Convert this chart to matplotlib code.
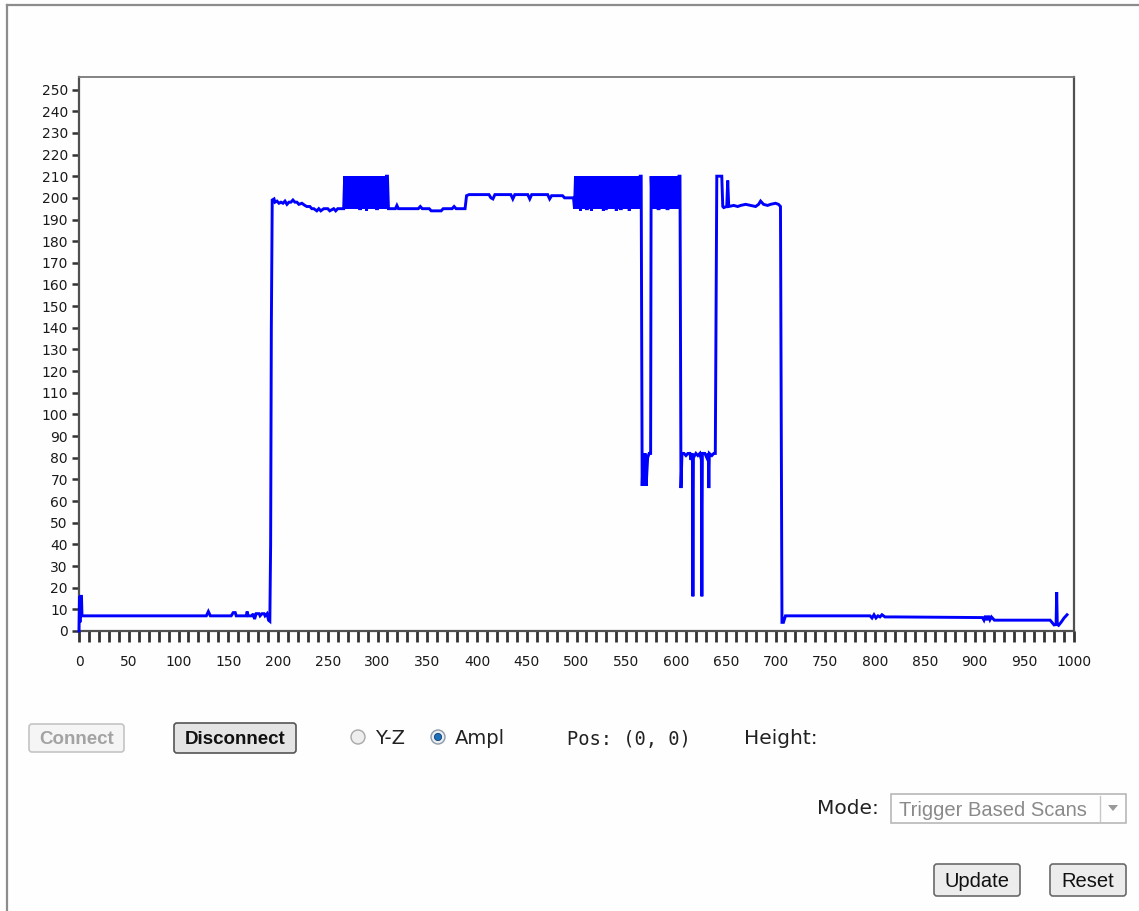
import numpy as np
import matplotlib
matplotlib.use("Agg")
import matplotlib.pyplot as plt
from matplotlib.patches import FancyBboxPatch, Circle, Polygon, Rectangle
from matplotlib.lines import Line2D
from matplotlib.transforms import Affine2D

# ---------------- data ----------------
low_x = [0, 0.5, 1, 1.5, 2.5, 3, 128, 130, 132, 153, 155, 157, 158, 168, 169, 170,
         174, 175, 176.5, 178, 181, 182, 184, 186, 187, 189, 190.5, 191.8, 192.6, 193.3, 194.2]
low_y = [0, 16, 4, 16, 16, 7, 7, 9, 7, 7, 8.5, 8.5, 7, 7, 9, 7,
         7, 8, 5.5, 8, 8, 7, 8, 8, 7, 8, 5, 4.5, 40, 140, 199]

high1_x = [196, 197, 199, 201, 203, 205, 207, 209, 211, 213, 215, 217, 219, 221, 224, 227,
           229, 232, 234, 236, 239, 241, 243, 246, 250, 252, 256, 258, 260, 262, 266]
high1_y = [199.5, 198, 198.5, 197.5, 198, 197.5, 198.5, 197, 198, 198, 199, 198, 198, 197, 197.5, 196.5,
           196, 196, 195, 195, 194, 195, 194, 195, 195, 194, 195, 194, 195, 195, 195]

osc1_start = 267
osc1_y = [210, 195, 210, 195, 210, 195, 210, 195, 210, 195, 210, 195, 210, 195, 210, 195,
          195, 210, 195, 210, 195, 210, 194, 210, 195, 210, 195, 210, 195, 210, 195, 210,
          195, 195, 210, 195, 210, 195, 210, 195, 210, 195, 210, 210, 195]

mid_x = [312, 318, 319.5, 321, 341, 343, 345, 352, 354, 364, 366, 375, 377, 379, 388, 389.5, 392,
         412, 414, 416, 418, 434, 436, 438, 451, 453, 455, 471, 473, 475, 486, 488, 497]
mid_y = [195, 195, 196.5, 195, 195, 196, 195, 195, 194, 194, 195, 195, 196, 195, 195, 201, 201.5,
         201.5, 200, 199.5, 201.5, 201.5, 199.5, 201.5, 201.5, 199.5, 201.5, 201.5, 199.5, 201, 201, 200, 200]

osc2_start = 498
osc2_y = [195, 210, 195, 210, 195, 210, 194, 210, 195, 210, 195, 210, 195, 195, 210, 195,
          210, 194, 210, 195, 210, 195, 210, 195, 210, 195, 210, 195, 210, 194, 210, 195,
          195, 210, 195, 210, 195, 210, 195, 210, 195, 210, 194, 210, 195, 210, 195, 195,
          210, 195, 210, 195, 210, 195, 210, 194, 210, 195, 210, 195, 210, 195, 210, 195,
          210, 195, 210, 210]

gap1_x = [566, 567, 568, 569, 570, 571.5, 573, 574.5]
gap1_y = [67, 82, 67, 82, 67, 80, 82, 82]

osc3_start = 575
osc3_y = [210, 195, 210, 195, 210, 195, 210, 195, 195, 210, 195, 210, 195, 210, 195,
          210, 195, 195, 210, 195, 210, 195, 210, 195, 210, 195, 210, 195, 210, 210]

low2_x = [605, 606, 608, 610, 612, 614, 615, 616.5, 617, 617.5, 620, 622, 624, 625.5, 626, 626.5,
          629, 631, 632.5, 633, 633.5, 636, 638, 639.5, 641, 646, 647]
low2_y = [66, 82, 82, 81, 82, 82, 79, 82, 16, 80, 82, 81, 82, 79, 16, 82,
          82, 80, 82, 66, 82, 81, 82, 82, 210, 210, 196]

high2_x = [648, 651, 652, 653, 658, 662, 665, 670, 675, 680, 683, 685, 688, 692, 695, 700,
           703, 705, 706.5, 708, 710]
high2_y = [195.5, 196, 208, 196, 196.5, 196, 196.5, 197, 196.5, 196, 197, 198.5, 197, 196.5, 197, 197.5,
           197, 196, 4, 4, 7]

tail_x = [795, 797, 799, 801, 803, 805, 807, 810, 820, 905, 908, 909.5, 911, 912.5, 914, 915.5,
          917, 920, 976, 980, 982, 982.6, 983.2, 984.5, 987, 990, 993]
tail_y = [7, 6, 7.5, 6, 7, 6.5, 7.5, 6.5, 6.5, 6.2, 6.2, 5, 7, 5, 7, 5.2,
          6.5, 5, 5, 2.8, 3, 18, 3, 2.6, 4, 6, 7.5]

y_ticks = list(range(0, 251, 10))
x_ticks = list(range(0, 1001, 10))
x_tick_labels = [str(v) if v % 50 == 0 else "" for v in x_ticks]

# ---------------- assemble series ----------------
xs = (low_x + high1_x
      + list(np.arange(osc1_start, osc1_start + len(osc1_y)))
      + mid_x
      + list(np.arange(osc2_start, osc2_start + len(osc2_y)))
      + gap1_x
      + list(np.arange(osc3_start, osc3_start + len(osc3_y)))
      + low2_x + high2_x + tail_x)
ys = (low_y + high1_y + osc1_y + mid_y + osc2_y + gap1_y + osc3_y + low2_y + high2_y + tail_y)

# ---------------- figure ----------------
W, H = 1139, 911
fig = plt.figure(figsize=(W / 100, H / 100), dpi=100, facecolor="#fdfefd")
T = Affine2D().scale(1 / W, -1 / H).translate(0, 1) + fig.transFigure  # pixel coords (y down)

# page border
fig.add_artist(Line2D([7, 7], [5, H], transform=T, color="#8c8c8c", lw=1.6))
fig.add_artist(Line2D([7, W], [5, 5], transform=T, color="#8c8c8c", lw=1.6))

ax = fig.add_axes([79 / W, 1 - 631 / H, (1074 - 79) / W, (631 - 77) / H])
ax.set_facecolor("#fdfefd")
ax.plot(xs, ys, color="#0000ff", lw=2.1, solid_joinstyle="miter", clip_on=False, zorder=3)
ax.set_xlim(0, 1000)
ax.set_ylim(0, 255.8)
ax.set_yticks(y_ticks)
ax.set_yticklabels([str(v) for v in y_ticks])
ax.set_xticks(x_ticks)
ax.set_xticklabels(x_tick_labels)
ax.tick_params(axis="y", length=5, width=1.8, color="#333333", labelsize=10,
               labelcolor="#1a1a1a", pad=3)
ax.tick_params(axis="x", length=8, width=2.0, color="#333333", labelsize=10,
               labelcolor="#1a1a1a", pad=9)
for s in ["left", "bottom", "right"]:
    ax.spines[s].set_color("#505050")
    ax.spines[s].set_linewidth(1.6)
ax.spines["top"].set_color("#7a7a7a")
ax.spines["top"].set_linewidth(1.3)


def button(x0, y0, x1, y1, label, fc, ec, tc, weight="normal", fs=13.5, family="Liberation Sans"):
    p = FancyBboxPatch((x0, y0), x1 - x0, y1 - y0, boxstyle="round,pad=0,rounding_size=3",
                       transform=T, fc=fc, ec=ec, lw=1.2)
    fig.add_artist(p)
    fig.text((x0 + x1) / 2, (y0 + y1) / 2 + 1.5, label, transform=T, ha="center", va="center",
             fontsize=fs, fontweight=weight, color=tc, family=family)


button(29, 724, 124, 752, "Connect", "#f5f5f5", "#c4c4c4", "#a3a3a3", weight="bold")
button(174, 723, 296, 753, "Disconnect", "#e4e4e4", "#555555", "#111111", weight="bold")

# radio buttons
fig.add_artist(Circle((358, 737), 7, transform=T, fc="#eeeeee", ec="#a8a8a8", lw=1.0))
fig.text(375, 739, "Y-Z", transform=T, ha="left", va="center", fontsize=14, color="#222222")
fig.add_artist(Circle((438, 737), 7, transform=T, fc="#e8eef4", ec="#8d9aa6", lw=1.0))
fig.add_artist(Circle((438, 737), 3.6, transform=T, fc="#1d6fb8", ec="#0d3f70", lw=0.6))
fig.text(455, 739, "Ampl", transform=T, ha="left", va="center", fontsize=14, color="#222222")

fig.text(567, 739, "Pos: (0, 0)", transform=T, ha="left", va="center", fontsize=13.5,
         color="#222222", family="DejaVu Sans Mono")
fig.text(744, 739, "Height:", transform=T, ha="left", va="center", fontsize=14.5, color="#222222")

# mode dropdown
fig.text(879, 809, "Mode:", transform=T, ha="right", va="center", fontsize=14.5, color="#222222")
fig.add_artist(Rectangle((891, 794), 235, 29, transform=T, fc="#fdfefd", ec="#b8b8b8", lw=1.2))
fig.add_artist(Line2D([1100, 1100], [796, 821], transform=T, color="#c8c8c8", lw=1))
fig.add_artist(Polygon([[1108, 805], [1118, 805], [1113, 811]], closed=True, transform=T,
                       fc="#9a9a9a", ec="none"))
fig.text(899, 810, "Trigger Based Scans", transform=T, ha="left", va="center", fontsize=14.5,
         color="#8a8a8a", family="Liberation Sans")

button(934, 864, 1020, 896, "Update", "#ececec", "#6a6a6a", "#111111", fs=14.5)
button(1050, 864, 1126, 896, "Reset", "#ececec", "#6a6a6a", "#111111", fs=14.5)

fig.savefig("out.png", dpi=100, facecolor=fig.get_facecolor())
